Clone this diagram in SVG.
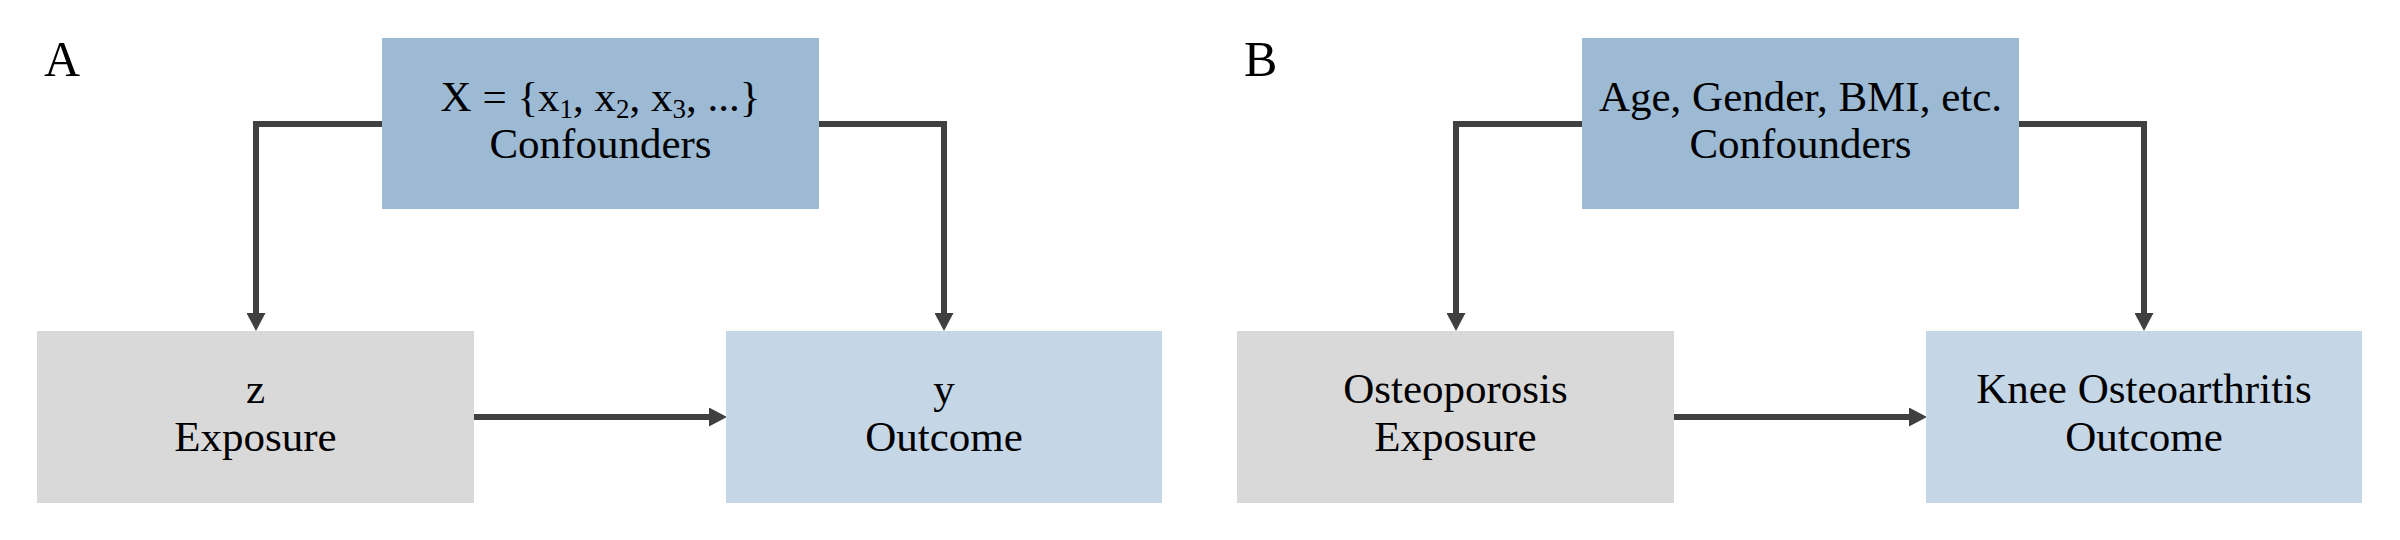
<svg xmlns="http://www.w3.org/2000/svg" width="2400" height="540" viewBox="0 0 2400 540">
<style>
text{font-family:"Liberation Serif","Times New Roman",serif;fill:#000;text-anchor:middle;font-size:43px}
.lbl{text-anchor:start;font-size:50px}
.conf{fill:#9dbad5}
.expo{fill:#d9d9d9}
.outc{fill:#c5d6e6}
.edge{fill:none;stroke:#404040;stroke-width:6;stroke-linejoin:miter}
.sub{font-size:27px}
</style>
<defs>
<marker id="ah" markerUnits="userSpaceOnUse" markerWidth="18" markerHeight="19" refX="0" refY="9.5" orient="auto" viewBox="0 0 18 19">
<path d="M0,0 L18,9.5 L0,19 z" fill="#404040"/>
</marker>
</defs>
<rect width="2400" height="540" fill="#fff"/>
<text class="lbl" x="44" y="76">A</text>
<text class="lbl" x="1244" y="76">B</text>
<g id="connectors">
<path class="edge" d="M382 124 H256 V313" marker-end="url(#ah)"/>
<path class="edge" d="M819 124 H944 V313" marker-end="url(#ah)"/>
<path class="edge" d="M474 417 H709" marker-end="url(#ah)"/>
<path class="edge" d="M1582 124 H1456 V313" marker-end="url(#ah)"/>
<path class="edge" d="M2019 124 H2144 V313" marker-end="url(#ah)"/>
<path class="edge" d="M1674 417 H1909" marker-end="url(#ah)"/>
</g>
<g id="a-confounders">
<rect class="conf" x="382" y="38" width="437" height="171"/>
<text x="600.5" y="111">X = {x<tspan class="sub" dy="7">1</tspan><tspan dy="-7">, x</tspan><tspan class="sub" dy="7">2</tspan><tspan dy="-7">, x</tspan><tspan class="sub" dy="7">3</tspan><tspan dy="-7">, ...}</tspan></text>
<text x="600.5" y="158">Confounders</text>
</g>
<g id="a-exposure">
<rect class="expo" x="37" y="331" width="437" height="172"/>
<text x="255.5" y="403">z</text>
<text x="255.5" y="451">Exposure</text>
</g>
<g id="a-outcome">
<rect class="outc" x="726" y="331" width="436" height="172"/>
<text x="944" y="403">y</text>
<text x="944" y="451">Outcome</text>
</g>
<g id="b-confounders">
<rect class="conf" x="1582" y="38" width="437" height="171"/>
<text x="1800.5" y="111">Age, Gender, BMI, etc.</text>
<text x="1800.5" y="158">Confounders</text>
</g>
<g id="b-exposure">
<rect class="expo" x="1237" y="331" width="437" height="172"/>
<text x="1455.5" y="403">Osteoporosis</text>
<text x="1455.5" y="451">Exposure</text>
</g>
<g id="b-outcome">
<rect class="outc" x="1926" y="331" width="436" height="172"/>
<text x="2144" y="403">Knee Osteoarthritis</text>
<text x="2144" y="451">Outcome</text>
</g>
</svg>
